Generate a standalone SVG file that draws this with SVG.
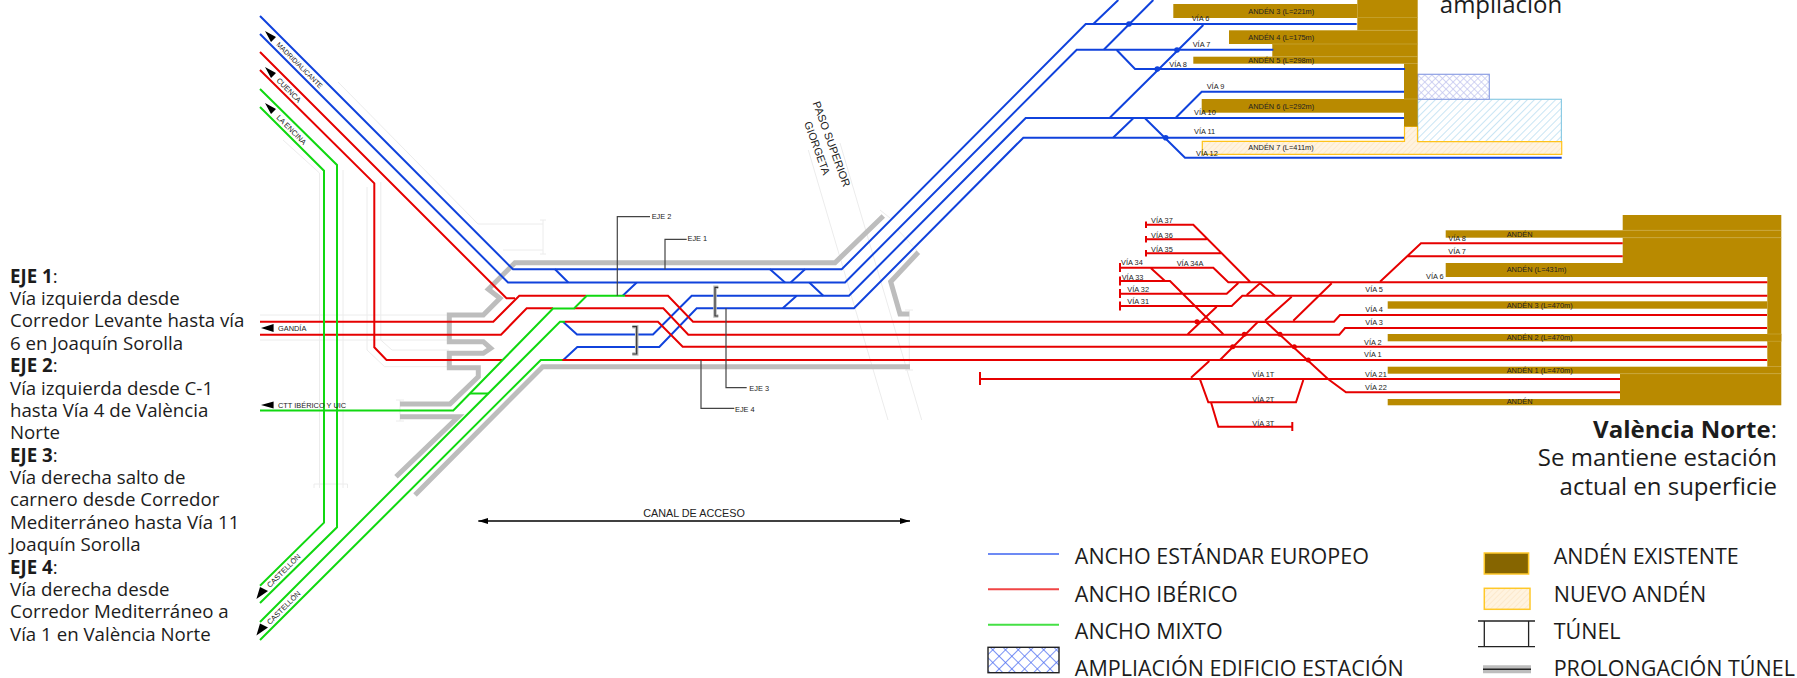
<svg xmlns="http://www.w3.org/2000/svg" width="1797" height="678" viewBox="0 0 1797 678">
<style>
text{font-family:"Liberation Sans",Arial,sans-serif;fill:#222}
.b{fill:none;stroke:#1042dc;stroke-width:2;stroke-linejoin:miter}
.r{fill:none;stroke:#e60000;stroke-width:2}
.g{fill:none;stroke:#10d810;stroke-width:2}
.t{fill:none;stroke:#bdbdbd;stroke-width:5}
.f{fill:none;stroke:#ececec;stroke-width:1}
.k{fill:none;stroke:#444;stroke-width:1.2}
.p{fill:#b98a00}
.pl{fill:none;stroke:#c9a73a;stroke-width:.7}
.s{font-size:7.4px}
.body{font-family:"Open Sans","Noto Sans",sans-serif;font-size:18.7px;fill:#1c1c1c}
.big{font-family:"Open Sans","Noto Sans",sans-serif;font-size:24px;fill:#1c1c1c}
.leg{font-family:"Open Sans","Noto Sans",sans-serif;font-size:21.5px;fill:#1c1c1c}
.tri{fill:#000}
.bb{fill:#1042dc}
.rb{fill:#e60000}
</style>
<defs>
<pattern id="hb" width="5" height="5" patternUnits="userSpaceOnUse" patternTransform="rotate(45)"><rect width="5" height="5" fill="#fff"/><line x1="0" y1="0" x2="0" y2="5" stroke="#bcdff2" stroke-width="1.6"/></pattern>
<pattern id="ho" width="4" height="4" patternUnits="userSpaceOnUse" patternTransform="rotate(45)"><rect width="4" height="4" fill="#fff3e0"/><line x1="0" y1="0" x2="0" y2="4" stroke="#fbe3c0" stroke-width="1.2"/></pattern>
<pattern id="hc" width="5" height="5" patternUnits="userSpaceOnUse" patternTransform="rotate(45)"><rect width="5" height="5" fill="#fff"/><path d="M0 0V5M0 0H5" stroke="#c3c6f0" stroke-width="1.5"/></pattern>
<pattern id="hl" width="9" height="9" patternUnits="userSpaceOnUse" patternTransform="rotate(45)"><rect width="9" height="9" fill="#fff"/><path d="M0 0V9M0 0H9" stroke="#4f70f2" stroke-width="1.5"/></pattern>
<marker id="ah" markerWidth="10" markerHeight="6" refX="10" refY="3" orient="auto-start-reverse" markerUnits="userSpaceOnUse"><path d="M0 0L10 3L0 6Z" fill="#000"/></marker>
</defs>

<g id="faint-structures">
<path class="f" d="M338 82L478 224H543M503 250H543M543 220V254M540 220H546M540 254H546"/>
<path class="f" d="M283 140L319.500 173V488M343 170V488M314 488V484H347.500V488M367 187V350L384.600 366.700H447.800M380.800 182V340L392 350H449"/>
<path class="f" d="M260 315H449M260 340H449M400 400V421M396 400H404M396 421H404"/>
<path class="f" d="M808.300 150L888 420M840 143L921.700 420M909.300 310V370M905 310H913M905 370H913M880 210L890 218M898 230L918 252"/>
</g>

<g id="tunnels">
<path class="t" d="M883.300 216L835 262.700H515L488.300 289.300L500 298.300L483.300 315H449.300V341.700H483.300L490.700 348.300L483.300 353.300H449.300V367.700H478.300V376.700L450 404H400"/>
<path class="t" d="M400 416.700H458.300L396 476.700"/>
<path class="t" d="M415 495L542.700 366.700H910"/>
<path class="t" d="M918.300 252.300L890.700 281.700L900 314H909.300"/>
</g>

<g id="platforms-joaquin-sorolla">
<rect x="1417.700" y="99.300" width="143.700" height="42.400" fill="url(#hb)" stroke="#8ccbe4" stroke-width="1.200"/>
<rect x="1417.700" y="74.300" width="71.600" height="25" fill="url(#hc)" stroke="#8ea0e4" stroke-width="1.200"/>
<path d="M1202.300 141.300H1404.500V126.500H1417.500V141.700H1561.700V154.300H1202.300Z" fill="url(#ho)" stroke="#ffc21a" stroke-width="1.200"/>
<rect class="p" x="1173.300" y="4" width="184" height="14"/>
<rect class="p" x="1357.300" y="0" width="60.400" height="30.300"/>
<rect class="p" x="1229" y="30.300" width="188.700" height="13.700"/>
<rect class="p" x="1272.300" y="44" width="145.400" height="12.700"/>
<rect class="p" x="1193.300" y="56.700" width="224.400" height="7"/>
<rect class="p" x="1404" y="63.700" width="13.700" height="62.800"/>
<rect class="p" x="1201.700" y="99" width="202.300" height="13.700"/>
<path class="pl" d="M1357.300 17.500H1417.700M1357.300 30.300H1417.700M1272.300 44H1417.700M1272.300 56.700H1417.700M1404 99H1417.700"/>
</g>

<g id="platforms-valencia-norte">
<rect class="p" x="1622.700" y="215" width="158.600" height="15.300"/>
<rect class="p" x="1445.700" y="230.300" width="335.600" height="7.400"/>
<rect class="p" x="1622.700" y="237.700" width="158.600" height="25.300"/>
<rect class="p" x="1445.700" y="263" width="335.600" height="14"/>
<rect class="p" x="1767.300" y="277" width="14" height="89.700"/>
<rect class="p" x="1387.700" y="301.300" width="379.600" height="7.400"/>
<rect class="p" x="1387.700" y="334" width="393.600" height="7.300"/>
<rect class="p" x="1387.700" y="366.700" width="393.600" height="7"/>
<rect class="p" x="1620" y="373.700" width="161.300" height="31.600"/>
<rect class="p" x="1387.700" y="399" width="232.300" height="6.300"/>
<path class="pl" d="M1622.700 230.300H1781.300M1622.700 237.700H1781.300M1767.300 334H1781.300M1767.300 341.300H1781.300M1620 373.700H1781.300"/>
</g>

<g id="connectors">
<g id="tracks-blue">
<path class="b" d="M260 16L513 269.300H841.700L1085.700 24H1356.700"/>
<path class="b" d="M260 34L508 282.500H845L1076.700 49.700H1273.300"/>
<path class="b" d="M563 321.700L577 334.500H653L691.700 295.700H849L1025.700 118H1404"/>
<path class="b" d="M563.300 360L577.300 347H659.300L696.700 308.300H854L1023.300 137.700H1404"/>
<path class="b" d="M555 269.300L568.300 282.500M622.700 295.700L636.700 282.500M770 269.300L785 282.500M805 269.300L790.700 282.500M809.300 282.500L823.300 295.700M796.700 295.700L782.700 308.300"/>
<path class="b" d="M1118.300 0L1093.300 24M1153.300 0L1104 49.500M1116.700 50L1135 69H1405M1110 117.500L1203.300 25M1176 117.500L1201.700 91.700H1404M1113.300 137.500L1133.300 118.300M1145 118.300L1185 157.700H1561.700"/>
<circle class="bb" cx="1129" cy="24" r="2.800"/><circle class="bb" cx="1177" cy="50" r="2.800"/><circle class="bb" cx="1157.300" cy="69" r="2.800"/><circle class="bb" cx="1165.700" cy="137.700" r="2.800"/>
</g>
<g id="tracks-red">
<path class="r" d="M260 52L506.500 298.300H515"/>
<path class="r" d="M260 321.700H493.300L519.300 295.700H586M625 295.700H668L693 321.700H1334L1340 315H1767"/>
<path class="r" d="M260 334.700H501L526.700 308.300H553M574 308.300H663.300L688.300 334.700H1339.300L1345 328H1767"/>
<path class="r" d="M565 321.700H658L682.700 346.700H1767"/>
<path class="r" d="M260 70L374.300 183.300V347.300L386.500 360H502M562 360H1767"/>
<path class="r" d="M1146 224.700H1193.300L1250 281.700M1146 239.300H1206.700M1146 253.300H1221.700M1120 267.700H1213.300L1228.300 282.300H1767.300M1120 281H1170L1223.300 334.300M1151 268.300L1165 281M1120 293.700H1226.700L1238.300 283M1120 306H1231.700L1242.300 295.700H1767.300M1216.700 306.700L1187.700 334.300"/>
<path class="r" d="M1220 360L1257.700 322H1266L1328 379L1346 392.300H1620M1265 320.700L1291.700 296.700M1293.300 320.700L1331.700 283.300M1246.700 295L1260 283.300L1275 295.700M1209.300 361L1191 377.700M980 379H1620M1200 379.300L1208.300 402.300H1296L1303.300 380M1211 402.300L1218.300 426.700H1292.300M1380 281.700L1421 243.300H1622.700M1407.700 256.300H1622.700"/>
<path class="r" d="M1146 221.500V228M1146 236V242.500M1146 250V256.500M1120 263V272M1120 276.500V285.500M1120 289V298M1120 301.500V310.500M980 372V385M1292.300 422V431"/>
<circle class="rb" cx="1244.300" cy="334.300" r="2.500"/><circle class="rb" cx="1232.700" cy="346.700" r="2.500"/><circle class="rb" cx="1280" cy="334.300" r="2.500"/><circle class="rb" cx="1294.300" cy="346.700" r="2.500"/><circle class="rb" cx="1308.300" cy="360" r="2.500"/><circle class="rb" cx="1197" cy="321.700" r="2.500"/>
</g>
<g id="tracks-green">
<path class="g" d="M260 89L337 165V527.300L260 603"/>
<path class="g" d="M260 107L324 170.700V522.700L260 585.700"/>
<path class="g" d="M260 622L560 321.700H565"/>
<path class="g" d="M260 640L540.800 360H562.300"/>
<path class="g" d="M260 410.500H453.300L553 308.500H574L586.700 295.700H625"/>
<path class="g" d="M470 393.500H488.500"/>
</g>
</g>

<g id="callouts">
<path class="k" d="M617.300 295.700V216.700H650M665 269.300V239.300H686.700M726 308.300V387.700H746.700M701 360V408.300H734.300"/>
<path d="M718.300 287.300H715V316H718.300" fill="none" stroke="#bbb" stroke-width="3.500"/>
<path d="M718.300 287.300H715V316H718.300" fill="none" stroke="#333" stroke-width="1.200"/>
<path d="M632.300 326.700H636.700V354H632.300" fill="none" stroke="#bbb" stroke-width="3.500"/>
<path d="M632.300 326.700H636.700V354H632.300" fill="none" stroke="#333" stroke-width="1.200"/>
<text class="s" x="651.700" y="218.500">EJE 2</text>
<text class="s" x="687.500" y="241">EJE 1</text>
<text class="s" x="749.300" y="391">EJE 3</text>
<text class="s" x="735" y="411.800">EJE 4</text>
<line x1="478.300" y1="521" x2="910" y2="521" stroke="#000" stroke-width="1.500" marker-start="url(#ah)" marker-end="url(#ah)"/>
<text x="694" y="516.500" text-anchor="middle" font-size="10.800">CANAL DE ACCESO</text>
<text x="812.500" y="103" font-size="11" transform="rotate(70 812.500 103)">PASO SUPERIOR</text>
<text x="804" y="123" font-size="10.800" transform="rotate(70 804 123)">GIORGETA</text>
</g>

<g id="line-labels">
<path class="tri" d="M265 31L276 37L271 42ZM265 67L276 73L271 78ZM265 103L276 109L271 114Z"/>
<path class="tri" d="M261 328L273.600 324V332ZM261 405L273.600 401.500V408.500Z"/>
<path class="tri" d="M256.400 599L260 587L268 591ZM256.400 635.500L260 623.500L268 627.500Z"/>
<text font-size="6.800" x="276" y="45" transform="rotate(45 276 45)">MADRID/ALICANTE</text>
<text class="s" x="276" y="81" transform="rotate(45 276 81)">CUENCA</text>
<text class="s" x="276" y="118" transform="rotate(45 276 118)">LA ENCINA</text>
<text class="s" x="278" y="330.500">GANDÍA</text>
<text class="s" x="278" y="407.500">CTT IBÉRICO Y UIC</text>
<text class="s" x="270" y="588" transform="rotate(-45 270 588)">CASTELLÓN</text>
<text class="s" x="270" y="625" transform="rotate(-45 270 625)">CASTELLÓN</text>
</g>

<g id="station-labels">
<text class="s" x="1248.300" y="13.500">ANDÉN 3 (L=221m)</text>
<text class="s" x="1248.300" y="39.500">ANDÉN 4 (L=175m)</text>
<text class="s" x="1248.300" y="62.500">ANDÉN 5 (L=298m)</text>
<text class="s" x="1248.300" y="108.500">ANDÉN 6 (L=292m)</text>
<text class="s" x="1248.300" y="149.500">ANDÉN 7 (L=411m)</text>
<text class="s" x="1191.700" y="21.200">VÍA 6</text>
<text class="s" x="1192.700" y="47.200">VÍA 7</text>
<text class="s" x="1169.300" y="66.800">VÍA 8</text>
<text class="s" x="1206.700" y="88.500">VÍA 9</text>
<text class="s" x="1194" y="114.500">VÍA 10</text>
<text class="s" x="1194" y="134.200">VÍA 11</text>
<text class="s" x="1196" y="156.200">VÍA 12</text>
<text class="s" x="1151" y="223.200">VÍA 37</text>
<text class="s" x="1151" y="237.500">VÍA 36</text>
<text class="s" x="1151" y="251.800">VÍA 35</text>
<text class="s" x="1121" y="264.800">VÍA 34</text>
<text class="s" x="1176.700" y="265.800">VÍA 34A</text>
<text class="s" x="1121.700" y="280.200">VÍA 33</text>
<text class="s" x="1127.300" y="292.200">VÍA 32</text>
<text class="s" x="1127.300" y="304.200">VÍA 31</text>
<text class="s" x="1263.300" y="376.500" text-anchor="middle">VÍA 1T</text>
<text class="s" x="1263.300" y="401.500" text-anchor="middle">VÍA 2T</text>
<text class="s" x="1263.300" y="425.800" text-anchor="middle">VÍA 3T</text>
<text class="s" x="1448.300" y="241.200">VÍA 8</text>
<text class="s" x="1448.300" y="254.200">VÍA 7</text>
<text class="s" x="1426" y="279.200">VÍA 6</text>
<text class="s" x="1365.300" y="291.800">VÍA 5</text>
<text class="s" x="1365.300" y="311.500">VÍA 4</text>
<text class="s" x="1365.300" y="324.800">VÍA 3</text>
<text class="s" x="1364" y="344.500">VÍA 2</text>
<text class="s" x="1364" y="357.200">VÍA 1</text>
<text class="s" x="1365" y="377.200">VÍA 21</text>
<text class="s" x="1365" y="390.200">VÍA 22</text>
<text class="s" x="1506.700" y="236.800">ANDÉN</text>
<text class="s" x="1506.700" y="271.500">ANDÉN (L=431m)</text>
<text class="s" x="1506.700" y="307.500">ANDÉN 3 (L=470m)</text>
<text class="s" x="1506.700" y="339.800">ANDÉN 2 (L=470m)</text>
<text class="s" x="1506.700" y="372.800">ANDÉN 1 (L=470m)</text>
<text class="s" x="1506.700" y="404.200">ANDÉN</text>
</g>

<g id="notes">
<text class="body" x="10" y="283"><tspan font-weight="700">EJE 1</tspan>:</text>
<text class="body" x="10" y="304.500">Vía izquierda desde</text>
<text class="body" x="10" y="327">Corredor Levante hasta vía</text>
<text class="body" x="10" y="349.500">6 en Joaquín Sorolla</text>
<text class="body" x="10" y="372"><tspan font-weight="700">EJE 2</tspan>:</text>
<text class="body" x="10" y="394.500">Vía izquierda desde C-1</text>
<text class="body" x="10" y="416.500">hasta Vía 4 de València</text>
<text class="body" x="10" y="439">Norte</text>
<text class="body" x="10" y="461.500"><tspan font-weight="700">EJE 3</tspan>:</text>
<text class="body" x="10" y="484">Vía derecha salto de</text>
<text class="body" x="10" y="506">carnero desde Corredor</text>
<text class="body" x="10" y="528.500">Mediterráneo hasta Vía 11</text>
<text class="body" x="10" y="551">Joaquín Sorolla</text>
<text class="body" x="10" y="573.500"><tspan font-weight="700">EJE 4</tspan>:</text>
<text class="body" x="10" y="596">Vía derecha desde</text>
<text class="body" x="10" y="618">Corredor Mediterráneo a</text>
<text class="body" x="10" y="640.500">Vía 1 en València Norte</text>
<text class="big" x="1501" y="12.500" text-anchor="middle">ampliación</text>
<text class="big" x="1777" y="438" text-anchor="end"><tspan font-weight="700">València Norte</tspan>:</text>
<text class="big" x="1777" y="466" text-anchor="end">Se mantiene estación</text>
<text class="big" x="1777" y="495" text-anchor="end">actual en superficie</text>
</g>

<g id="legend">
<line x1="988" y1="554" x2="1059" y2="554" stroke="#3d63f0" stroke-width="1.500"/>
<line x1="988" y1="589.300" x2="1059" y2="589.300" stroke="#f04545" stroke-width="2"/>
<line x1="988" y1="624.700" x2="1059" y2="624.700" stroke="#45e045" stroke-width="2"/>
<rect x="988" y="647.300" width="71" height="25.400" fill="url(#hl)" stroke="#222" stroke-width="1.400"/>
<text class="leg" x="1074.800" y="564">ANCHO ESTÁNDAR EUROPEO</text>
<text class="leg" x="1074.800" y="602">ANCHO IBÉRICO</text>
<text class="leg" x="1074.800" y="639">ANCHO MIXTO</text>
<text class="leg" x="1074.800" y="676">AMPLIACIÓN EDIFICIO ESTACIÓN</text>
<rect x="1484.300" y="553" width="44.300" height="21" fill="#866500" stroke="#ffc828" stroke-width="1.500"/>
<rect x="1484.300" y="588.300" width="45.700" height="21" fill="url(#ho)" stroke="#ffc828" stroke-width="1.500"/>
<path d="M1478 621H1535M1484.300 621V646.700M1528.600 621V646.700M1478 646.700H1535" fill="none" stroke="#222" stroke-width="1.300"/>
<line x1="1483" y1="669.300" x2="1531" y2="669.300" stroke="#bdbdbd" stroke-width="8"/>
<line x1="1483" y1="669.300" x2="1531" y2="669.300" stroke="#222" stroke-width="1.500"/>
<text class="leg" x="1553.700" y="564">ANDÉN EXISTENTE</text>
<text class="leg" x="1553.700" y="602">NUEVO ANDÉN</text>
<text class="leg" x="1553.700" y="639">TÚNEL</text>
<text class="leg" x="1553.700" y="676">PROLONGACIÓN TÚNEL</text>
</g>
</svg>
